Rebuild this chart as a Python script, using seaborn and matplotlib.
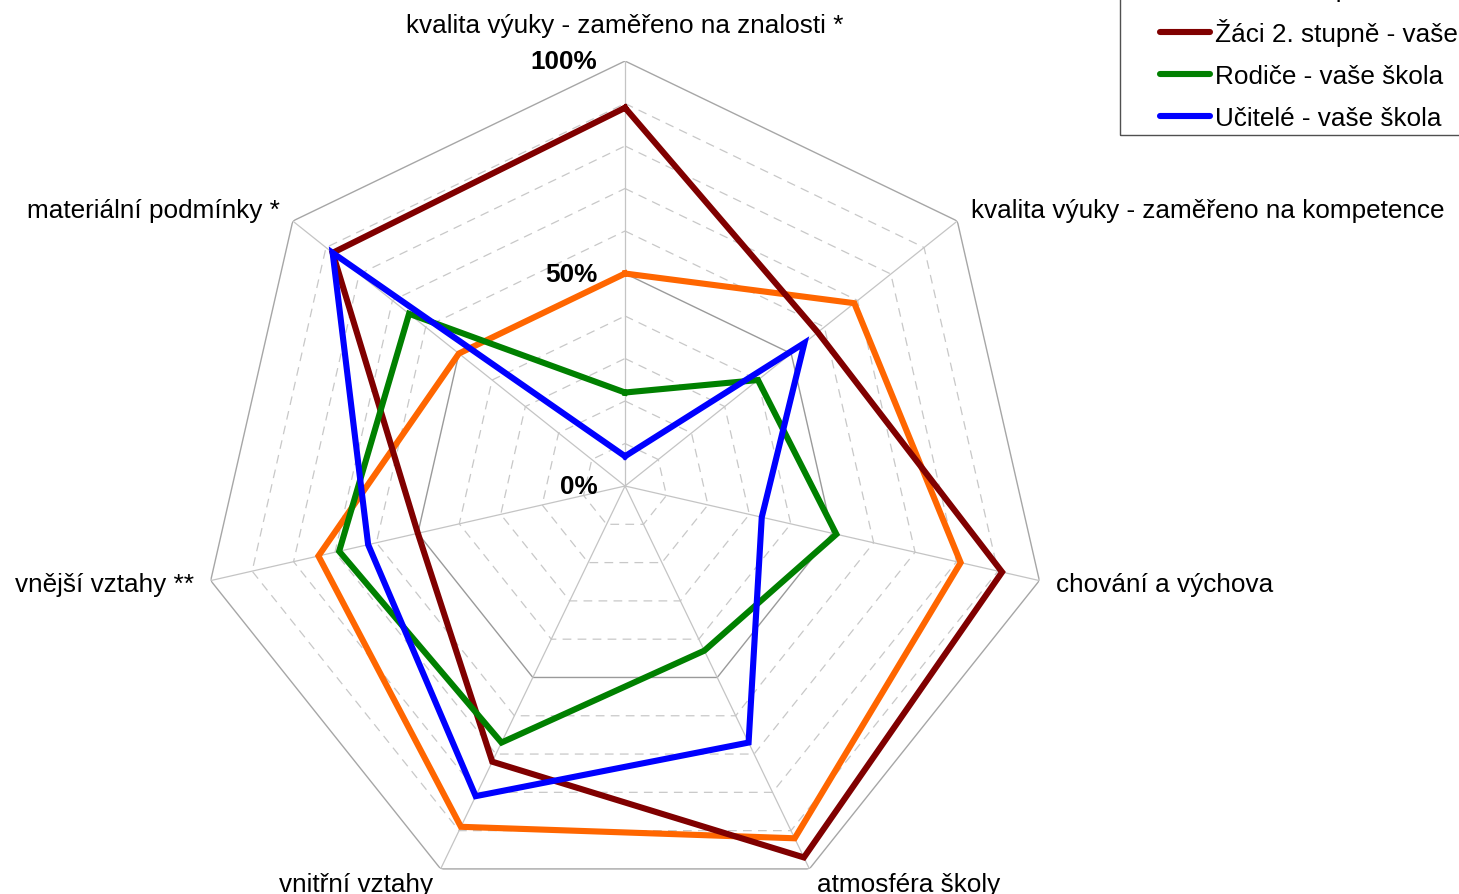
import numpy as np
import pandas as pd
import matplotlib
matplotlib.use("Agg")
import matplotlib.pyplot as plt
from matplotlib.patches import Rectangle
import seaborn as sns

plt.rcParams["font.family"] = ["Liberation Sans", "DejaVu Sans"]

# Survey areas (clockwise from the top)
categories = [
    "kvalita výuky - zaměřeno na znalosti *",
    "kvalita výuky - zaměřeno na kompetence",
    "chování a výchova",
    "atmosféra školy",
    "vnitřní vztahy",
    "vnější vztahy **",
    "materiální podmínky *",
]

# Scores in percent for each respondent group
zaci1 = [50, 69, 81, 92, 89, 74, 50]
zaci2 = [89, 58, 91, 97, 72, 50, 88]
rodice = [22, 40, 51, 43, 67, 69, 65]
ucitele = [7, 54, 33, 67, 81, 62, 88]

series_names = [
    "Žáci 1. stupně - vaše škola",
    "Žáci 2. stupně - vaše škola",
    "Rodiče - vaše škola",
    "Učitelé - vaše škola",
]
series_values = [zaci1, zaci2, rodice, ucitele]
series_colors = ["#FF6600", "#800000", "#008000", "#0000FF"]

grid_levels = [10, 20, 30, 40, 50, 60, 70, 80, 90, 100]
radial_labels = {100: "100%", 50: "50%", 0: "0%"}

n = len(categories)
theta = np.linspace(0, 2 * np.pi, n, endpoint=False)
theta_closed = np.append(theta, 2 * np.pi)

rows = []
for name, vals in zip(series_names, series_values):
    closed = list(vals) + [vals[0]]
    for t, v in zip(theta_closed, closed):
        rows.append({"theta": t, "value": v, "series": name})
df = pd.DataFrame(rows)

fig = plt.figure(figsize=(14.59, 8.95), dpi=100)
ax = fig.add_axes([0.1371, -0.019, 0.5826, 0.9497], projection="polar")
ax.set_theta_zero_location("N")
ax.set_theta_direction(-1)
ax.set_ylim(0, 100)
ax.grid(False)
ax.spines["polar"].set_visible(False)
ax.set_xticks([])
ax.set_yticks([])

# Heptagonal grid
for lvl in grid_levels:
    if lvl == 100:
        ax.plot(theta_closed, [lvl] * (n + 1), color="#A6A6A6", lw=1.0, zorder=1)
    elif lvl == 50:
        ax.plot(theta_closed, [lvl] * (n + 1), color="#9A9A9A", lw=1.0, zorder=1)
    else:
        ax.plot(theta_closed, [lvl] * (n + 1), color="#C8C8C8", lw=0.9,
                linestyle=(0, (7, 5)), zorder=1)
for t in theta:
    ax.plot([t, t], [0, 100], color="#C4C4C4", lw=0.9, zorder=1)

sns.lineplot(
    data=df, x="theta", y="value", hue="series", hue_order=series_names,
    palette=series_colors, sort=False, estimator=None, lw=4.4, ax=ax,
    solid_joinstyle="miter", zorder=3,
)
ax.set_xlabel("")
ax.set_ylabel("")
handles, labels = ax.get_legend_handles_labels()
if ax.get_legend() is not None:
    ax.get_legend().remove()

fs = 18.8
# Category labels
for i, (t, label) in enumerate(zip(theta, categories)):
    deg = np.degrees(t)
    if i == 0:
        ax.text(t, 108.5, label, ha="center", va="center", fontsize=fs)
    else:
        ha = "left" if deg < 180 else "right"
        ax.text(t, 104, label, ha=ha, va="center", fontsize=fs)

# Radial scale labels along the top spoke
for lvl, txt in radial_labels.items():
    ax.annotate(txt, xy=(0, lvl), xytext=(-20, 0), textcoords="offset points",
                ha="right", va="center", fontsize=fs, fontweight="bold")

for h in handles:
    h.set_linewidth(4.4)
    h.set_solid_capstyle("round")

fig.legend(
    handles, labels, loc="lower left",
    bbox_to_anchor=(1160 / 1459, 1 - 131 / 895),
    frameon=False, fontsize=fs, handlelength=1.9, handletextpad=0.2,
    labelspacing=0.68, borderpad=0, borderaxespad=0,
)
fig.add_artist(Rectangle((1120 / 1459, 1 - 136 / 895), 0.5, 0.5,
                         transform=fig.transFigure, fill=False,
                         edgecolor="#505050", lw=1.0))

fig.savefig("out.png", dpi=100)
